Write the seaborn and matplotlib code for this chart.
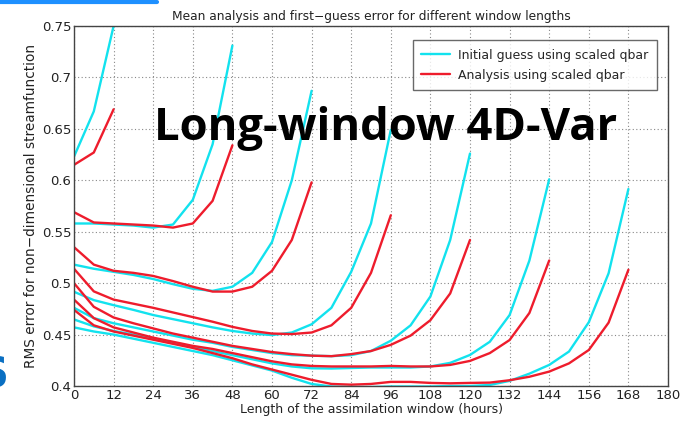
import numpy as np
import pandas as pd
import matplotlib
matplotlib.use("Agg")
import matplotlib.pyplot as plt
import seaborn as sns
from matplotlib.lines import Line2D

# ---------------- data ----------------
windows = [12, 48, 72, 96, 120, 144, 168]

guess_12 = [0.623, 0.667, 0.750]
anal_12 = [0.615, 0.627, 0.669]

guess_48 = [0.558, 0.558, 0.557, 0.556, 0.554, 0.557, 0.581, 0.635, 0.731]
anal_48 = [0.569, 0.559, 0.558, 0.557, 0.556, 0.554, 0.558, 0.580, 0.634]

guess_72 = [0.518, 0.514, 0.511, 0.508, 0.504, 0.499, 0.4945, 0.4925, 0.4965,
            0.510, 0.540, 0.600, 0.687]
anal_72 = [0.535, 0.518, 0.512, 0.510, 0.507, 0.502, 0.4965, 0.4918, 0.4918,
           0.4965, 0.512, 0.542, 0.598]

guess_96 = [0.4916, 0.4835, 0.4786, 0.474, 0.469, 0.465, 0.461, 0.457, 0.4535,
            0.451, 0.4495, 0.452, 0.460, 0.476, 0.511, 0.558, 0.649]
anal_96 = [0.514, 0.492, 0.484, 0.480, 0.476, 0.4715, 0.467, 0.4625, 0.4575,
           0.4535, 0.451, 0.4505, 0.452, 0.459, 0.476, 0.510, 0.566]

guess_120 = [0.476, 0.466, 0.461, 0.457, 0.453, 0.449, 0.445, 0.442, 0.438,
             0.435, 0.432, 0.430, 0.4295, 0.429, 0.430, 0.434, 0.444, 0.459,
             0.487, 0.542, 0.626]
anal_120 = [0.500, 0.477, 0.4666, 0.461, 0.456, 0.451, 0.447, 0.443, 0.439,
            0.436, 0.433, 0.431, 0.4295, 0.429, 0.431, 0.434, 0.440, 0.449,
            0.464, 0.490, 0.542]

guess_144 = [0.4647, 0.458, 0.4535, 0.450, 0.446, 0.442, 0.438, 0.434, 0.430,
             0.426, 0.422, 0.419, 0.4172, 0.417, 0.4175, 0.418, 0.418, 0.418,
             0.419, 0.4225, 0.4302, 0.443, 0.469, 0.522, 0.601]
anal_144 = [0.484, 0.466, 0.457, 0.452, 0.447, 0.443, 0.439, 0.436, 0.432,
            0.428, 0.424, 0.421, 0.4195, 0.419, 0.419, 0.419, 0.4195, 0.419,
            0.419, 0.4205, 0.4244, 0.432, 0.4447, 0.471, 0.522]

guess_168 = [0.457, 0.453, 0.450, 0.446, 0.442, 0.438, 0.434, 0.430, 0.425,
             0.420, 0.415, 0.408, 0.402, 0.3995, 0.399, 0.399, 0.3995, 0.3995,
             0.3995, 0.400, 0.400, 0.401, 0.405, 0.412, 0.4205, 0.4335, 0.462,
             0.5096, 0.5915]
anal_168 = [0.474, 0.459, 0.453, 0.449, 0.445, 0.441, 0.437, 0.432, 0.427,
            0.421, 0.416, 0.411, 0.406, 0.402, 0.4013, 0.402, 0.404, 0.404,
            0.403, 0.4026, 0.403, 0.4033, 0.4056, 0.409, 0.414, 0.422, 0.435,
            0.4616, 0.513]

guess_series = [guess_12, guess_48, guess_72, guess_96, guess_120, guess_144, guess_168]
anal_series = [anal_12, anal_48, anal_72, anal_96, anal_120, anal_144, anal_168]

label_guess = "Initial guess using scaled qbar"
label_anal = "Analysis using scaled qbar"

x_ticks = list(range(0, 181, 12))
y_ticks = [0.4, 0.45, 0.5, 0.55, 0.6, 0.65, 0.7, 0.75]
y_tick_labels = ["0.4", "0.45", "0.5", "0.55", "0.6", "0.65", "0.7", "0.75"]

title = "Mean analysis and first\u2212guess error for different window lengths"
xlabel = "Length of the assimilation window (hours)"
ylabel = "RMS error for non\u2212dimensional streamfunction"
overlay = "Long-window 4D-Var"

# ---------------- build table ----------------
rows = []
for w, g, a in zip(windows, guess_series, anal_series):
    step = 6
    for i, v in enumerate(g):
        rows.append(dict(hours=i * step, rms=v, window=w, kind=label_guess))
    for i, v in enumerate(a):
        rows.append(dict(hours=i * step, rms=v, window=w, kind=label_anal))
df = pd.DataFrame(rows)
df["unit"] = df["kind"] + "_" + df["window"].astype(str)

# ---------------- plot ----------------
sns.set_style("white")
plt.rcParams["font.family"] = ["DejaVu Sans"]

cyan = "#12E2EE"
red = "#EE1C2C"

fig = plt.figure(figsize=(6.89, 4.25), dpi=100)
ax = fig.add_axes([74 / 689, 1 - 386 / 425, 594 / 689, 360 / 425])

sns.lineplot(data=df, x="hours", y="rms", hue="kind", units="unit",
             estimator=None, palette={label_guess: cyan, label_anal: red},
             hue_order=[label_guess, label_anal], linewidth=1.7, ax=ax,
             legend=False, sort=False)

ax.set_xlim(0, 180)
ax.set_ylim(0.4, 0.75)
ax.set_xticks(x_ticks)
ax.set_xticklabels([str(t) for t in x_ticks])
ax.set_yticks(y_ticks)
ax.set_yticklabels(y_tick_labels)
ax.grid(True, linestyle=(0, (1, 2.2)), color="#888888", linewidth=0.8)
ax.tick_params(direction="in", length=4, width=0.8, colors="#222222",
               labelsize=9.5, pad=2)
for s in ax.spines.values():
    s.set_color("#444444")
    s.set_linewidth(1.0)
ax.set_xlabel(xlabel, fontsize=9, color="#222222", labelpad=1)
ax.set_ylabel(ylabel, fontsize=9.8, color="#222222", labelpad=3)
ax.set_title(title, fontsize=8.8, color="#222222", pad=4)

handles = [Line2D([], [], color=cyan, lw=1.7), Line2D([], [], color=red, lw=1.7)]
leg = ax.legend(handles, [label_guess, label_anal], loc="upper right",
                bbox_to_anchor=(0.981, 0.961), borderaxespad=0, fancybox=False,
                edgecolor="#444444", fontsize=9, handlelength=2.3,
                borderpad=0.7, labelspacing=0.55, handletextpad=0.6)
leg.get_frame().set_linewidth(1.0)

ax.text(0.525, (386 - 140) / 360, overlay, transform=ax.transAxes, ha="center",
        va="baseline", fontsize=32.7, fontweight="bold",
        family=["Open Sans", "DejaVu Sans"], color="black", zorder=10)

# decorations from the slide
fig.add_artist(Line2D([0, 157 / 689], [1 - 1.5 / 425, 1 - 1.5 / 425],
                      color="#1E90FF", lw=3, transform=fig.transFigure))
fig.text(9 / 689, 1 - 375 / 425, "S", ha="right", va="center", fontsize=30,
         fontweight="bold", color="#0A6FC2")

fig.savefig("out.png", dpi=100)
